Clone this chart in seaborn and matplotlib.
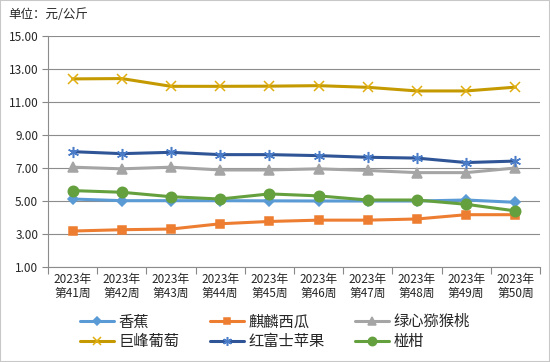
import pandas as pd
import matplotlib
matplotlib.use('Agg')
import matplotlib.pyplot as plt
import seaborn as sns
from matplotlib.patches import Rectangle

# dati
weeks = ["2023年\n第41周", "2023年\n第42周", "2023年\n第43周", "2023年\n第44周", "2023年\n第45周",
         "2023年\n第46周", "2023年\n第47周", "2023年\n第48周", "2023年\n第49周", "2023年\n第50周"]
banana = [5.12, 5.02, 5.02, 5.02, 5.01, 5.00, 5.00, 5.00, 5.06, 4.92]
watermelon = [3.18, 3.26, 3.30, 3.62, 3.76, 3.84, 3.84, 3.91, 4.17, 4.17]
kiwi = [7.05, 6.95, 7.05, 6.88, 6.88, 6.95, 6.85, 6.72, 6.72, 7.00]
grape = [12.40, 12.42, 11.95, 11.95, 11.96, 11.99, 11.89, 11.67, 11.67, 11.90]
fuji = [7.99, 7.87, 7.95, 7.81, 7.81, 7.75, 7.65, 7.60, 7.33, 7.42]
tangerine = [5.63, 5.53, 5.26, 5.12, 5.43, 5.31, 5.06, 5.06, 4.80, 4.40]

series = [
    ("香蕉", banana, "#5B9BD5", "D", 5.5, "#5B9BD5"),
    ("麒麟西瓜", watermelon, "#ED7D31", "s", 5.5, "#ED7D31"),
    ("绿心猕猴桃", kiwi, "#A5A5A5", "^", 6.5, "#A5A5A5"),
    ("巨峰葡萄", grape, "#C49A00", "x", 7.5, "#E0AE10"),
    ("红富士苹果", fuji, "#2F5597", (6, 2, 0), 8, "#4A7CC8"),
    ("椪柑", tangerine, "#65A03F", "o", 7.5, "#65A03F"),
]

sns.set_theme(style="white")
plt.rcParams['font.family'] = ['Noto Sans CJK SC', 'DejaVu Sans']

fig = plt.figure(figsize=(5.5, 3.62), dpi=100)
ax = fig.add_axes([48 / 550, 1 - 267 / 362, 492 / 550, 231 / 362])

for name, vals, color, marker, msize, mcolor in series:
    df = pd.DataFrame({"x": range(len(weeks)), "y": vals})
    sns.lineplot(data=df, x="x", y="y", ax=ax, color=color, linewidth=2.2,
                 marker=marker, markersize=msize, markerfacecolor=mcolor,
                 markeredgecolor=mcolor, markeredgewidth=1.1, label=name)

ax.set_xlim(-0.5, len(weeks) - 0.5)
ax.set_ylim(1, 15)
ax.set_yticks([1, 3, 5, 7, 9, 11, 13, 15])
ax.set_yticklabels([f"{v:.2f}" for v in [1, 3, 5, 7, 9, 11, 13, 15]], fontsize=8.5)
ax.set_xticks(range(len(weeks)))
ax.set_xticklabels(weeks, fontsize=8.5, linespacing=1.15)
ax.set_xticks([i - 0.5 for i in range(len(weeks) + 1)], minor=True)
ax.tick_params(axis='x', which='major', length=0, pad=4)
ax.tick_params(axis='x', which='minor', length=5, color="#888888", width=0.8, direction='out', bottom=True)
ax.tick_params(axis='y', length=4, color="#888888", width=0.8, direction='out', left=True, pad=3)
ax.set_xlabel("")
ax.set_ylabel("")
ax.grid(axis='y', color="#8C8C8C", linewidth=0.8)
ax.set_axisbelow(True)
for s in ["top", "right"]:
    ax.spines[s].set_visible(False)
for s in ["left", "bottom"]:
    ax.spines[s].set_color("#8C8C8C")
    ax.spines[s].set_linewidth(0.8)

ax.get_legend().remove()
handles, labels = ax.get_legend_handles_labels()
# ordine per righe come nell'originale
order = [0, 3, 1, 4, 2, 5]
fig.legend([handles[i] for i in order], [labels[i] for i in order], loc='center',
           bbox_to_anchor=(0.5, 0.083), ncol=3, frameon=False, fontsize=11,
           handlelength=2.2, columnspacing=2.0, handletextpad=0.3, labelspacing=0.2,
           markerscale=0.8)

fig.text(8 / 550, 1 - 15 / 362, "单位：元/公斤", fontsize=9, va='center', ha='left')

fig.patches.append(Rectangle((0, 0), 1, 1, transform=fig.transFigure, fill=False,
                             edgecolor="#C8C8C8", linewidth=1.5))

fig.savefig("out.png", dpi=100)
plt.close(fig)
